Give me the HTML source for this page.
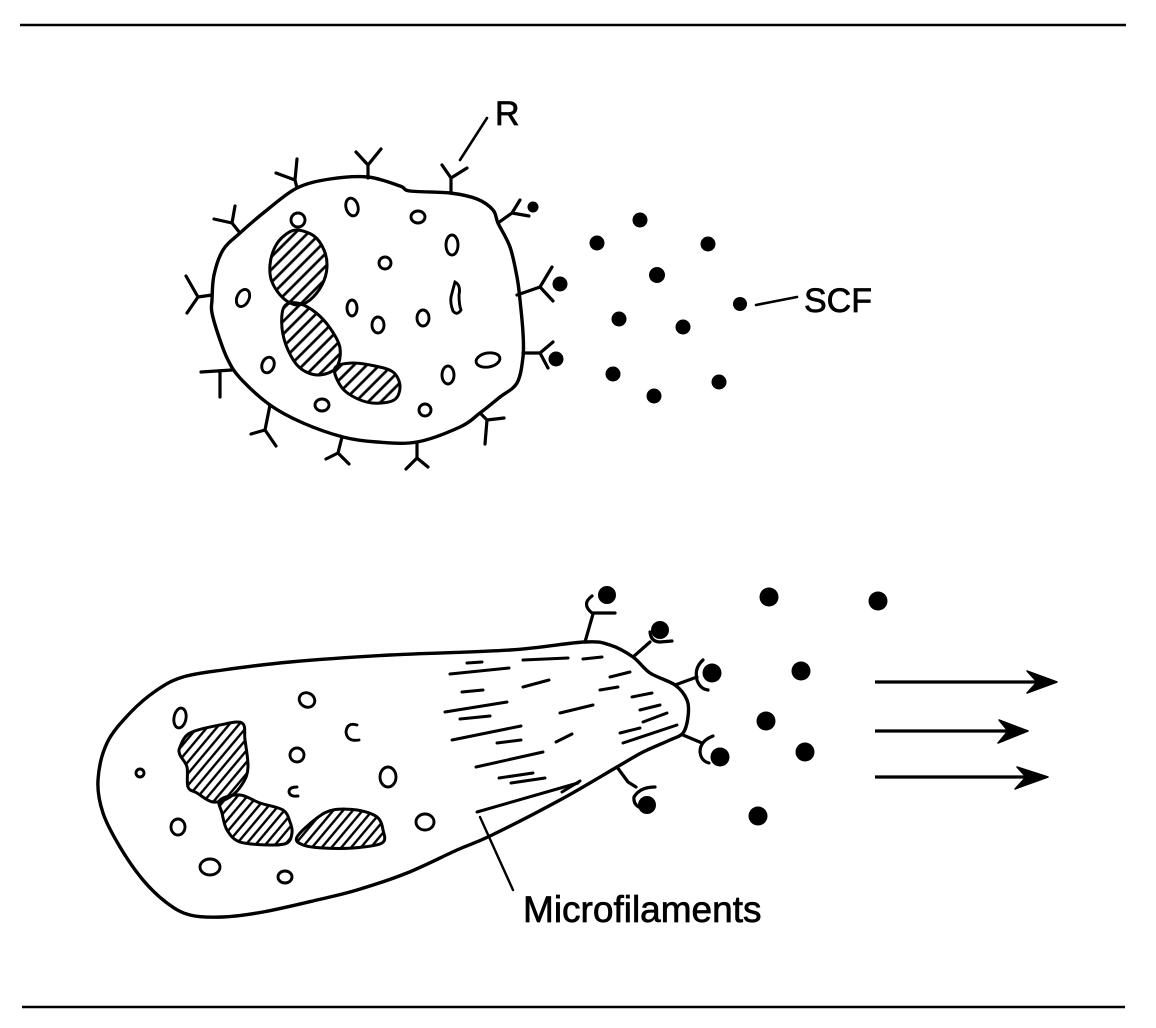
<!DOCTYPE html>
<html>
<head>
<meta charset="utf-8">
<style>
  html,body{margin:0;padding:0;background:#fff;}
  svg{display:block;}
  text{font-family:"Liberation Sans",Arial,sans-serif;fill:#000;stroke:#000;stroke-width:0.7;}
</style>
</head>
<body>
<svg width="1156" height="1028" viewBox="0 0 1156 1028" xmlns="http://www.w3.org/2000/svg">
  <defs>
    <pattern id="h1" width="9" height="9" patternUnits="userSpaceOnUse" patternTransform="rotate(45)">
      <line x1="4.5" y1="-1" x2="4.5" y2="10" stroke="#000" stroke-width="2.7"/>
    </pattern>
    <pattern id="h2" width="7.5" height="7.5" patternUnits="userSpaceOnUse" patternTransform="rotate(40)">
      <line x1="3.75" y1="-1" x2="3.75" y2="8.5" stroke="#000" stroke-width="2.4"/>
    </pattern>
  </defs>

  <!-- rules -->
  <line x1="20" y1="25" x2="1126" y2="25" stroke="#000" stroke-width="2.5"/>
  <line x1="22" y1="1007" x2="1125" y2="1007" stroke="#000" stroke-width="2.5"/>

  <!-- ============ TOP CELL ============ -->
  <g fill="none" stroke="#000" stroke-width="3.4" stroke-linejoin="round" stroke-linecap="round">
    <path class="smooth" d="M212,300 L214,275 L223,250 L240,233 L267,210 L297,188 L330,179 L368,177 L400,186 L410,191 L450,193 L477,199 L493,210 L498,223 L510,247 L517,277 L520,300 L523,333 L523,357 L517,383 L500,397 L480,413 L460,427 L417,442 L377,442 L343,437 L303,423 L270,405 L240,378 L228,360 L220,340 L212,313 Z"/>
  </g>
  <g fill="none" stroke="#000" stroke-width="3.2" stroke-linejoin="round" stroke-linecap="round">
    <!-- receptors (Y) -->
    <path d="M297,188 L295,180 L276,173 M295,180 L297,159"/>
    <path d="M368,178 L368,165 L356,152 M368,165 L381,149"/>
    <path d="M451,193 L451,178 L442,165 M451,178 L467,168"/>
    <path d="M498,223 L512,213 L520,200 M512,213 L529,216"/>
    <path d="M517,295 L540,287 L552,267 M540,287 L553,301"/>
    <path d="M523,353 L540,353 L553,342 M540,353 L548,368"/>
    <path d="M480,413 L487,420 L504,418 M487,420 L485,444"/>
    <path d="M417,442 L417,458 L406,469 M417,458 L428,467"/>
    <path d="M342,437 L338,453 L326,459 M338,453 L349,464"/>
    <path d="M270,405 L265,430 L251,434 M265,430 L276,446"/>
    <path d="M201,372 L232,370 M220,372 L220,397"/>
    <path d="M212,295 L198,297 L186,276 M198,297 L187,313"/>
    <path d="M240,233 L232,223 L214,219 M232,223 L235,206"/>

    <!-- R leader -->
    <path d="M487,118 L460,160" stroke-width="2.6"/>
    <!-- SCF leader -->
    <path d="M756,305 L797,297" stroke-width="2.6"/>
  </g>

  <!-- top nucleus lobes -->
  <g stroke="#000" stroke-width="3" stroke-linejoin="round" fill="url(#h1)">
    <path class="smooth" d="M297,230 L314,236 L324,250 L327,267 L322,285 L310,300 L297,305 L283,298 L272,282 L270,265 L275,247 L285,235 Z"/>
    <path class="smooth" d="M284,307 L297,303 L315,312 L330,328 L340,348 L336,368 L318,375 L300,368 L288,350 L282,328 Z"/>
    <path class="smooth" d="M335,368 L352,363 L375,366 L393,372 L400,386 L394,400 L372,403 L352,396 L340,385 Z"/>
  </g>

  <!-- top vacuoles -->
  <g fill="none" stroke="#000" stroke-width="2.9">
    <ellipse cx="298" cy="220" rx="7" ry="7"/>
    <ellipse cx="352" cy="207" rx="6" ry="9" transform="rotate(-15 352 207)"/>
    <ellipse cx="418" cy="217" rx="7" ry="6"/>
    <ellipse cx="452" cy="245" rx="6" ry="10"/>
    <ellipse cx="385" cy="263" rx="6" ry="6"/>
    <ellipse cx="243" cy="298" rx="6" ry="9" transform="rotate(25 243 298)"/>
    <path d="M455,282 Q461,285 459,295 Q459,305 461,310 Q457,316 453,311 Q450,303 451,297 Q453,289 455,282 Z"/>
    <ellipse cx="352" cy="308" rx="5" ry="8"/>
    <ellipse cx="378" cy="325" rx="6" ry="8"/>
    <ellipse cx="423" cy="318" rx="6" ry="8"/>
    <ellipse cx="488" cy="360" rx="12" ry="7" transform="rotate(-10 488 360)"/>
    <ellipse cx="268" cy="365" rx="6" ry="8" transform="rotate(20 268 365)"/>
    <ellipse cx="448" cy="375" rx="6" ry="9"/>
    <ellipse cx="322" cy="405" rx="7" ry="6"/>
    <ellipse cx="425" cy="410" rx="6" ry="6"/>
  </g>

  <!-- top dots -->
  <g fill="#000">
    <circle cx="533" cy="207" r="5.5"/>
    <circle cx="560" cy="284" r="7.5"/>
    <circle cx="556" cy="359" r="7.5"/>
    <circle cx="640" cy="220" r="7.5"/>
    <circle cx="597" cy="243" r="7.5"/>
    <circle cx="708" cy="244" r="7.5"/>
    <circle cx="657" cy="275" r="8"/>
    <circle cx="740" cy="304" r="7"/>
    <circle cx="619" cy="319" r="7.5"/>
    <circle cx="683" cy="327" r="7.5"/>
    <circle cx="613" cy="374" r="7.5"/>
    <circle cx="719" cy="382" r="7.5"/>
    <circle cx="654" cy="396" r="7.5"/>
  </g>

  <text x="495" y="125" font-size="34">R</text>
  <text x="804" y="312" font-size="34">SCF</text>

  <!-- ============ BOTTOM CELL ============ -->
  <g fill="none" stroke="#000" stroke-width="3.4" stroke-linejoin="round" stroke-linecap="round">
    <path class="smooth" d="M584,642 L510,650 L390,655 L290,662 L223,670 L183,677 L157,690 L130,713 L107,743 L98,780 L103,813 L120,847 L143,880 L167,903 L190,915 L223,917 L263,912 L317,900 L357,890 L407,873 L457,850 L490,836 L560,800 L617,767 L643,752 L670,740 L683,733 L688,717 L687,700 L675,685 L650,673 L633,657 L610,645 Z"/>
  </g>
  <g fill="none" stroke="#000" stroke-width="3.2" stroke-linejoin="round" stroke-linecap="round">
    <!-- receptors with cups -->
    <path d="M585,642 L593,614"/>
    <path d="M592,596 Q581,604 592,613 L615,613"/>
    <path d="M633,657 L650,642"/>
    <path d="M650,632 Q651,642 660,642 L672,641"/>
    <path d="M675,685 L697,677"/>
    <path d="M703,660 Q694,668 697,680 Q700,689 708,690"/>
    <path d="M683,735 L702,743"/>
    <path d="M713,736 Q700,741 700,752 Q701,761 709,763"/>
    <path d="M617,767 L628,782 L636,787"/>
    <path d="M655,787 Q640,787 634,797 Q633,805 641,808"/>

    <!-- microfilament leader -->
    <path d="M480,817 L513,890" stroke-width="2.4"/>
  </g>

  <!-- microfilaments dashes -->
  <g fill="none" stroke="#000" stroke-width="3" stroke-linecap="round">
    <path d="M467,663 L482,662"/>
    <path d="M450,674 L509,668"/>
    <path d="M523,660 L568,658"/>
    <path d="M583,659 L602,657"/>
    <path d="M462,692 L483,690"/>
    <path d="M523,687 L549,680"/>
    <path d="M610,677 L630,672"/>
    <path d="M600,690 L618,687"/>
    <path d="M445,712 L507,702"/>
    <path d="M460,719 L490,716"/>
    <path d="M560,713 L593,705"/>
    <path d="M632,697 L652,693"/>
    <path d="M640,710 L660,705"/>
    <path d="M643,722 L667,713"/>
    <path d="M452,740 L521,726"/>
    <path d="M497,743 L521,740"/>
    <path d="M556,742 L572,734"/>
    <path d="M620,733 L640,728"/>
    <path d="M623,743 L677,725"/>
    <path d="M476,767 L543,752"/>
    <path d="M499,778 L533,773"/>
    <path d="M511,783 L545,778"/>
    <path d="M477,812 L578,783"/>
    <path d="M562,792 L580,781"/>
  </g>

  <!-- bottom nucleus lobes -->
  <g stroke="#000" stroke-width="3" stroke-linejoin="round" fill="url(#h2)">
    <path class="smooth" d="M180,747 L190,733 L220,725 L242,723 L245,740 L248,767 L243,783 L230,797 L213,802 L197,793 L188,787 L187,767 L180,755 Z"/>
    <path class="smooth" d="M220,800 L240,795 L260,803 L283,810 L290,822 L292,833 L287,843 L270,845 L240,842 L227,830 L222,813 Z"/>
    <path class="smooth" d="M297,837 L317,818 L333,810 L357,810 L377,817 L383,830 L382,843 L353,848 L323,848 L303,845 Z"/>
  </g>

  <!-- bottom vacuoles -->
  <g fill="none" stroke="#000" stroke-width="2.9" stroke-linecap="round">
    <ellipse cx="180" cy="718" rx="6" ry="10" transform="rotate(10 180 718)"/>
    <ellipse cx="307" cy="700" rx="8" ry="7" transform="rotate(30 307 700)"/>
    <ellipse cx="140" cy="773" rx="4" ry="4"/>
    <path d="M357,725 Q347,722 346,732 Q347,742 359,740"/>
    <ellipse cx="297" cy="755" rx="7" ry="7"/>
    <ellipse cx="388" cy="777" rx="8" ry="10"/>
    <path d="M297,787 Q289,787 289,792 Q290,797 298,796"/>
    <ellipse cx="178" cy="827" rx="7" ry="8"/>
    <ellipse cx="425" cy="822" rx="9" ry="8"/>
    <ellipse cx="210" cy="867" rx="10" ry="8"/>
    <ellipse cx="285" cy="877" rx="7" ry="6"/>
  </g>

  <!-- bottom dots -->
  <g fill="#000">
    <circle cx="607" cy="595" r="9"/>
    <circle cx="660" cy="630" r="9"/>
    <circle cx="712" cy="673" r="9.5"/>
    <circle cx="720" cy="757" r="9.5"/>
    <circle cx="647" cy="805" r="9"/>
    <circle cx="769" cy="597" r="9.5"/>
    <circle cx="878" cy="601" r="9.5"/>
    <circle cx="801" cy="671" r="9.5"/>
    <circle cx="766" cy="721" r="9.5"/>
    <circle cx="805" cy="752" r="9.5"/>
    <circle cx="758" cy="816" r="9.5"/>
  </g>

  <!-- arrows -->
  <g stroke="#000" stroke-width="3.2" fill="#000" stroke-linejoin="round">
    <line x1="875" y1="682" x2="1045" y2="682"/>
    <path d="M1057,682 L1027,671 L1037,682 L1027,693 Z" stroke-width="1.5"/>
    <line x1="875" y1="731" x2="1018" y2="731"/>
    <path d="M1028,731 L999,720 L1008,731 L998,743 Z" stroke-width="1.5"/>
    <line x1="875" y1="777" x2="1036" y2="777"/>
    <path d="M1048,777 L1017,767 L1026,777 L1015,789 Z" stroke-width="1.5"/>
  </g>

  <text x="523" y="922" font-size="37">Microfilaments</text>
</svg>
<script>
(function(){
  var paths = document.querySelectorAll('path.smooth');
  for (var k = 0; k < paths.length; k++) {
    var p = paths[k];
    var nums = p.getAttribute('d').match(/-?\d+(\.\d+)?/g).map(Number);
    var pts = [];
    for (var i = 0; i + 1 < nums.length; i += 2) pts.push([nums[i], nums[i+1]]);
    var n = pts.length;
    if (n < 3) continue;
    var d = 'M' + pts[0][0] + ',' + pts[0][1];
    for (var i = 0; i < n; i++) {
      var p0 = pts[(i - 1 + n) % n], p1 = pts[i], p2 = pts[(i + 1) % n], p3 = pts[(i + 2) % n];
      var c1x = p1[0] + (p2[0] - p0[0]) / 6, c1y = p1[1] + (p2[1] - p0[1]) / 6;
      var c2x = p2[0] - (p3[0] - p1[0]) / 6, c2y = p2[1] - (p3[1] - p1[1]) / 6;
      d += ' C' + c1x.toFixed(1) + ',' + c1y.toFixed(1) + ' ' + c2x.toFixed(1) + ',' + c2y.toFixed(1) + ' ' + p2[0] + ',' + p2[1];
    }
    d += ' Z';
    p.setAttribute('d', d);
  }
})();
</script>
</body>
</html>
